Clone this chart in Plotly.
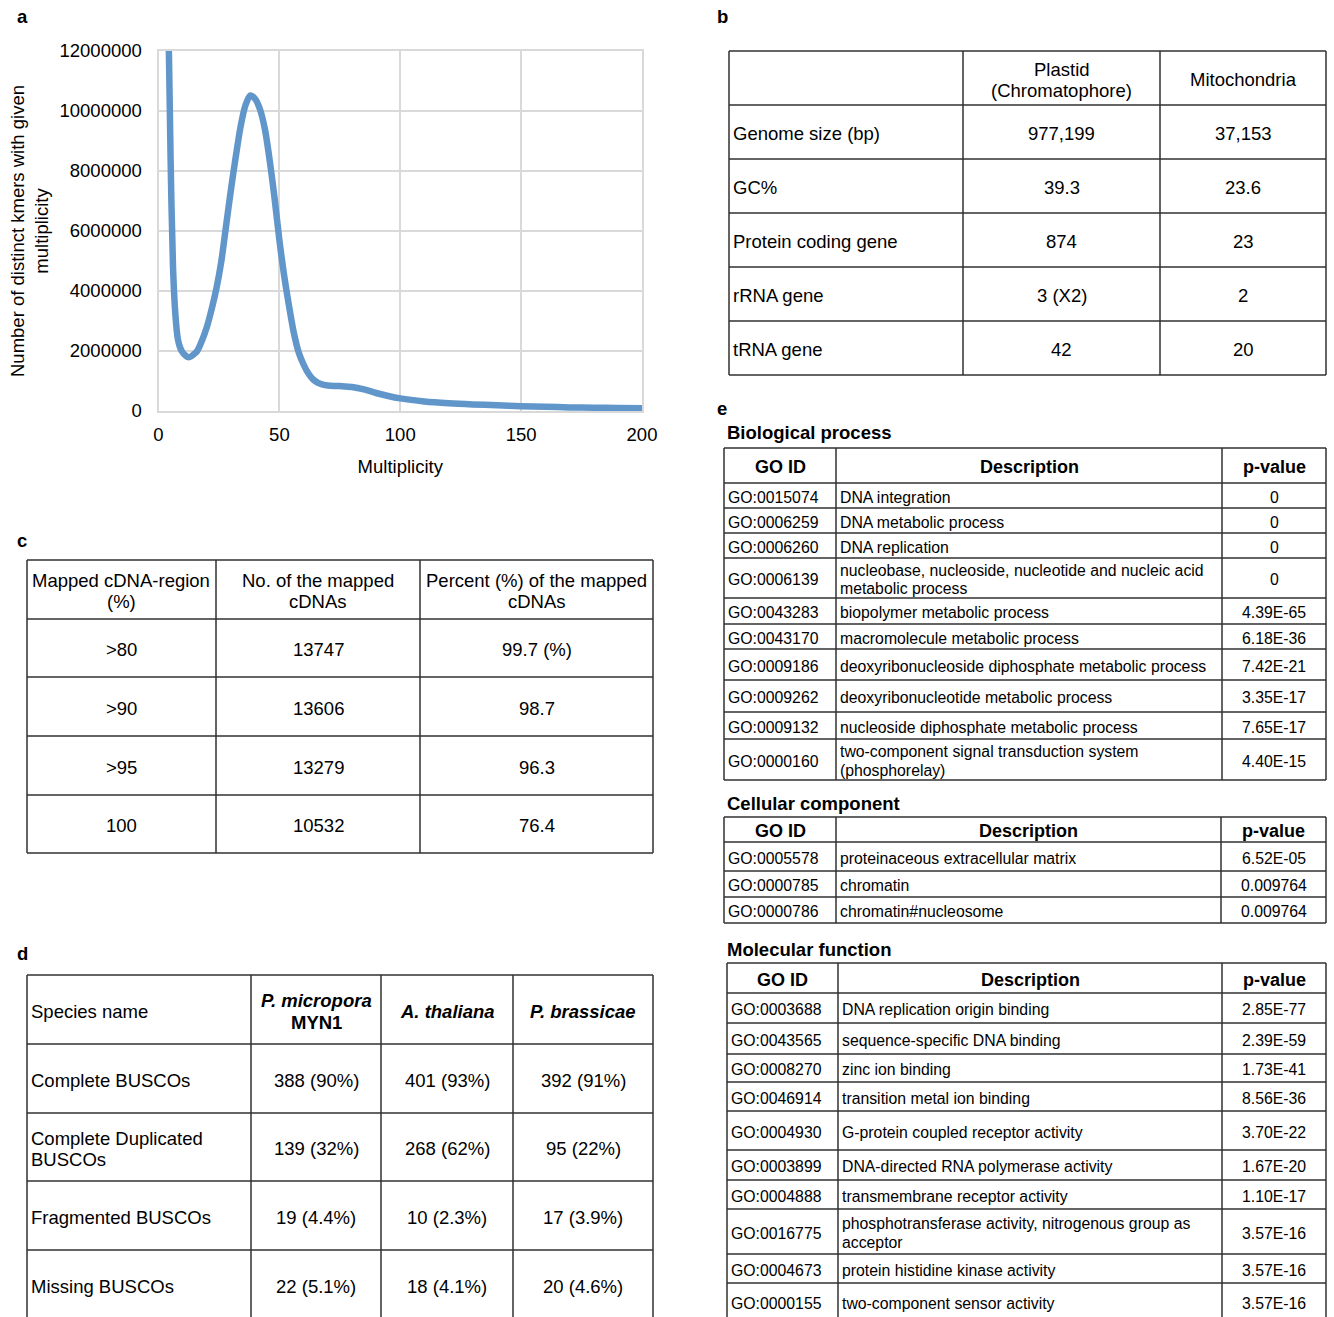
import plotly.graph_objects as go

W, H = 1334, 1317
FONT = "Liberation Sans, Arial, Helvetica, sans-serif"

# ---------------- a: k-mer multiplicity spectrum ----------------
multiplicity = [3, 4, 5, 6, 7, 8, 9, 10, 11, 12, 13, 14, 16, 18, 20, 22, 24, 26, 28,
                30, 32, 34, 36, 38, 40, 42, 44, 46, 48, 50, 52, 54, 56, 58, 60,
                62, 64, 66, 68, 70, 75, 80, 85, 90, 95, 100, 110, 120, 130, 140,
                150, 160, 170, 180, 190, 200]
kmer_counts = [30000000, 14000000, 8400000, 4800000, 3200000, 2400000, 2100000,
               1950000, 1860000, 1800000, 1800000, 1850000, 2000000, 2350000,
               2800000, 3400000, 4100000, 5000000, 6200000, 7400000, 8500000,
               9500000, 10200000, 10520000, 10400000, 10050000, 9400000,
               8350000, 7100000, 5700000, 4500000, 3500000, 2600000, 1950000,
               1550000, 1250000, 1050000, 940000, 880000, 850000, 830000, 800000,
               720000, 600000, 500000, 420000, 320000, 260000, 220000, 190000,
               160000, 140000, 120000, 110000, 100000, 90000]

# ---------------- b: organelle genomes ----------------
b_header = ["", "Plastid\n(Chromatophore)", "Mitochondria"]
b_rows = [
    ["Genome size (bp)", "977,199", "37,153"],
    ["GC%", "39.3", "23.6"],
    ["Protein coding gene", "874", "23"],
    ["rRNA gene", "3 (X2)", "2"],
    ["tRNA gene", "42", "20"],
]

# ---------------- c: cDNA mapping ----------------
c_header = ["Mapped cDNA-region\n(%)", "No. of the mapped\ncDNAs",
            "Percent (%) of the mapped\ncDNAs"]
c_rows = [
    [">80", "13747", "99.7 (%)"],
    [">90", "13606", "98.7"],
    [">95", "13279", "96.3"],
    ["100", "10532", "76.4"],
]

# ---------------- d: BUSCO completeness ----------------
d_first = "Species name"
d_species = ["P. micropora", "A. thaliana", "P. brassicae"]
d_strain = ["MYN1", "", ""]
d_rows = [
    ["Complete BUSCOs", "388 (90%)", "401 (93%)", "392 (91%)"],
    ["Complete Duplicated\nBUSCOs", "139 (32%)", "268 (62%)", "95 (22%)"],
    ["Fragmented BUSCOs", "19 (4.4%)", "10 (2.3%)", "17 (3.9%)"],
    ["Missing BUSCOs", "22 (5.1%)", "18 (4.1%)", "20 (4.6%)"],
]

# ---------------- e: GO enrichment ----------------
go_header = ["GO ID", "Description", "p-value"]

bp_ids = ["GO:0015074", "GO:0006259", "GO:0006260", "GO:0006139", "GO:0043283",
          "GO:0043170", "GO:0009186", "GO:0009262", "GO:0009132", "GO:0000160"]
bp_desc = ["DNA integration", "DNA metabolic process", "DNA replication",
           "nucleobase, nucleoside, nucleotide and nucleic acid\nmetabolic process",
           "biopolymer metabolic process", "macromolecule metabolic process",
           "deoxyribonucleoside diphosphate metabolic process",
           "deoxyribonucleotide metabolic process",
           "nucleoside diphosphate metabolic process",
           "two-component signal transduction system\n(phosphorelay)"]
bp_p = ["0", "0", "0", "0", "4.39E-65", "6.18E-36", "7.42E-21", "3.35E-17",
        "7.65E-17", "4.40E-15"]

cc_ids = ["GO:0005578", "GO:0000785", "GO:0000786"]
cc_desc = ["proteinaceous extracellular matrix", "chromatin", "chromatin#nucleosome"]
cc_p = ["6.52E-05", "0.009764", "0.009764"]

mf_ids = ["GO:0003688", "GO:0043565", "GO:0008270", "GO:0046914", "GO:0004930",
          "GO:0003899", "GO:0004888", "GO:0016775", "GO:0004673", "GO:0000155"]
mf_desc = ["DNA replication origin binding", "sequence-specific DNA binding",
           "zinc ion binding", "transition metal ion binding",
           "G-protein coupled receptor activity", "DNA-directed RNA polymerase activity",
           "transmembrane receptor activity",
           "phosphotransferase activity, nitrogenous group as\nacceptor",
           "protein histidine kinase activity", "two-component sensor activity"]
mf_p = ["2.85E-77", "2.39E-59", "1.73E-41", "8.56E-36", "3.70E-22", "1.67E-20",
        "1.10E-17", "3.57E-16", "3.57E-16", "3.57E-16"]


# ---------------- helpers (pixel layout -> paper coordinates) ----------------
def fx(x):
    return x / W


def fy(y):
    return 1 - y / H


shapes = []
annotations = []
LINE_COLOR = "#303030"


def grid(cols, rows, width=1.5):
    top, bottom = rows[0], rows[-1]
    for x in cols:
        shapes.append(dict(type="line", xref="paper", yref="paper",
                           x0=fx(x), x1=fx(x), y0=fy(top), y1=fy(bottom),
                           line=dict(color=LINE_COLOR, width=width)))
    for y in rows:
        shapes.append(dict(type="line", xref="paper", yref="paper",
                           x0=fx(cols[0]), x1=fx(cols[-1]), y0=fy(y), y1=fy(y),
                           line=dict(color=LINE_COLOR, width=width)))


def text(s, x, y, anchor="center", size=18.5, gap=21, bold=False, italic=False):
    lines = s.split("\n")
    y0 = y - gap * (len(lines) - 1) / 2
    for i, ln in enumerate(lines):
        if not ln:
            continue
        if italic:
            ln = "<i>" + ln + "</i>"
        if bold:
            ln = "<b>" + ln + "</b>"
        annotations.append(dict(text=ln, x=fx(x), y=fy(y0 + i * gap),
                                xref="paper", yref="paper", xanchor=anchor,
                                yanchor="middle", showarrow=False,
                                font=dict(family=FONT, size=size, color="#000")))


def cell(s, cols, rows, r, c, align, size, gap, bold=False, italic=False, dy=1.5):
    y = (rows[r] + rows[r + 1]) / 2 + dy
    if align == "left":
        text(s, cols[c] + 2, y, "left", size, gap, bold, italic)
    else:
        text(s, (cols[c] + cols[c + 1]) / 2, y, "center", size, gap, bold, italic)


def table(header, body, cols, rows, aligns, header_aligns, size, gap,
          header_size=None, header_bold=False):
    grid(cols, rows)
    for c, s in enumerate(header):
        cell(s, cols, rows, 0, c, header_aligns[c], header_size or size, gap,
             bold=header_bold)
    for r, row in enumerate(body):
        for c, s in enumerate(row):
            cell(s, cols, rows, r + 1, c, aligns[c], size, gap)


# ---------------- panel b ----------------
table(b_header, b_rows, [729, 963, 1160, 1326], [51, 105, 159, 213, 267, 321, 375],
      ["left", "center", "center"], ["left", "center", "center"], 18.5, 21)

# ---------------- panel c ----------------
table(c_header, c_rows, [27, 216, 420, 653], [560, 619, 677, 736, 795, 853],
      ["center"] * 3, ["center"] * 3, 18.5, 21)

# ---------------- panel d ----------------
d_cols = [27, 251, 381, 513, 653]
d_rows_px = [975, 1044, 1113, 1181, 1250, 1319]
grid(d_cols, d_rows_px)
cell(d_first, d_cols, d_rows_px, 0, 0, "left", 18.5, 21)
for i, (sp, st) in enumerate(zip(d_species, d_strain)):
    label = "<b><i>" + sp + "</i></b>" + ("\n<b>" + st + "</b>" if st else "")
    cell(label, d_cols, d_rows_px, 0, i + 1, "center", 18.5, 22)
for r, row in enumerate(d_rows):
    for c, s in enumerate(row):
        cell(s, d_cols, d_rows_px, r + 1, c, "left" if c == 0 else "center", 18.5, 21)

# ---------------- panel e ----------------
go_aligns = ["left", "left", "center"]
head_aligns = ["center", "center", "center"]

text("<b>Biological process</b>", 725, 433, "left", 18.5)
table(go_header, list(zip(bp_ids, bp_desc, bp_p)), [724, 836, 1222, 1326],
      [448, 483, 508, 533, 558, 598, 624, 649, 680, 712, 739, 780],
      go_aligns, head_aligns, 15.8, 18.5, header_size=18, header_bold=True)

text("<b>Cellular component</b>", 725, 804, "left", 18.5)
table(go_header, list(zip(cc_ids, cc_desc, cc_p)), [724, 836, 1221, 1326],
      [817, 842, 871, 897, 923],
      go_aligns, head_aligns, 15.8, 18.5, header_size=18, header_bold=True)

text("<b>Molecular function</b>", 725, 949, "left", 18.5)
table(go_header, list(zip(mf_ids, mf_desc, mf_p)), [727, 838, 1222, 1326],
      [963, 993, 1023, 1054, 1082, 1111, 1150, 1180, 1209, 1254, 1283, 1321],
      go_aligns, head_aligns, 15.8, 18.5, header_size=18, header_bold=True)

# ---------------- panel letters ----------------
for letter, x, y in [("a", 22, 17), ("b", 722, 17), ("c", 22, 540),
                     ("d", 22, 953), ("e", 722, 409)]:
    text("<b>" + letter + "</b>", x, y, "center", 18.5)

# ---------------- figure ----------------
fig = go.Figure()
fig.add_trace(go.Scatter(
    x=multiplicity, y=kmer_counts, mode="lines",
    line=dict(color="#6196CB", width=6.5, shape="spline", smoothing=0.8),
    showlegend=False, hoverinfo="skip"))

GRID = "#D9D9D9"
fig.update_layout(
    width=W, height=H,
    margin=dict(l=0, r=0, t=0, b=0),
    paper_bgcolor="white", plot_bgcolor="white",
    font=dict(family=FONT, size=18.5, color="#000"),
    shapes=shapes, annotations=annotations,
    xaxis=dict(
        domain=[fx(158.5), fx(642)], range=[0, 200],
        tickvals=[0, 50, 100, 150, 200], ticks="", ticklabelstandoff=6,
        showgrid=True, gridcolor=GRID, gridwidth=1.5,
        showline=True, mirror=True, linecolor=GRID, linewidth=2, zeroline=False,
        tickfont=dict(size=18.5), automargin=False,
        title=dict(text="Multiplicity", font=dict(size=18.5), standoff=16),
    ),
    yaxis=dict(
        domain=[fy(411), fy(51)], range=[0, 12000000],
        tickvals=[0, 2000000, 4000000, 6000000, 8000000, 10000000, 12000000],
        tickformat="d", ticks="", ticklabelstandoff=11,
        showgrid=True, gridcolor=GRID, gridwidth=1.5,
        showline=True, mirror=True, linecolor=GRID, linewidth=2, zeroline=False,
        tickfont=dict(size=18.5), automargin=False,
        title=dict(text="Number of distinct kmers with given<br>multiplicity",
                   font=dict(size=18.5), standoff=6),
    ),
)

fig.write_html("out.html")
